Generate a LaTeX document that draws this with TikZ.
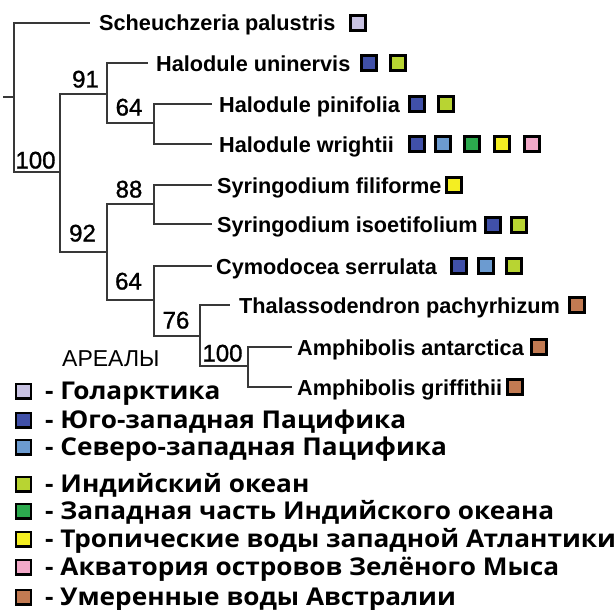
\documentclass[tikz,border=0pt]{standalone}
\usepackage{fontspec}
\setmainfont{Liberation Sans}
\newfontfamily\legfont{Open Sans}[FakeStretch=1.07]
\newfontfamily\numfont{Liberation Sans}[FakeBold=1.2]

% area colours
\definecolor{holarctic}{HTML}{C8C2E2}
\definecolor{swpacific}{HTML}{4050A8}
\definecolor{nwpacific}{HTML}{6C9BD0}
\definecolor{indian}{HTML}{B8D432}
\definecolor{windian}{HTML}{2CAA4E}
\definecolor{watlantic}{HTML}{F4EE22}
\definecolor{capeverde}{HTML}{F2A8C8}
\definecolor{australia}{HTML}{C27A52}

\begin{document}
\begin{tikzpicture}[x=1pt,y=-1pt,
  branch/.style={line width=1.3pt, draw=black!78},
  taxon/.style={anchor=base west, inner sep=0pt, font=\bfseries\fontsize{21.7}{22}\selectfont},
  support/.style={inner sep=0pt, text height=17pt, text depth=0pt, font=\numfont\fontsize{24}{24}\selectfont},
  areabox/.style={draw=black, line width=2.6pt, minimum size=15.4pt, inner sep=0pt, fill=#1},
  legbox/.style={draw=black, line width=2.4pt, minimum size=14.6pt, inner sep=0pt, fill=#1},
  legtext/.style={anchor=base west, inner sep=0pt, font=\legfont\bfseries\fontsize{24.5}{25}\selectfont}]

\useasboundingbox (0,0) rectangle (616,610);
\fill[white] (0,0) rectangle (616,610);

% inner nodes of the tree
\coordinate (stub) at (3,97);
\coordinate (R) at (14,97);
\coordinate (A) at (60,172);
\coordinate (B) at (107,94);
\coordinate (D) at (154,123);
\coordinate (C) at (107,252);
\coordinate (E) at (154,204);
\coordinate (F) at (154,300);
\coordinate (G) at (200,336);
\coordinate (H) at (248,366);

% branch tips
\coordinate (pS)  at (90,23);
\coordinate (pHu) at (148,63);
\coordinate (pHp) at (212,104);
\coordinate (pHw) at (212,144);
\coordinate (pSf) at (212,185);
\coordinate (pSi) at (212,224);
\coordinate (pCs) at (212,266);
\coordinate (pTp) at (230,305);
\coordinate (pAa) at (292,347);
\coordinate (pAg) at (292,387);

% branches
\draw[branch] (stub) -- (R);
\draw[branch] (R) |- (pS);
\draw[branch] (R) |- (A);
\draw[branch] (A) |- (B);
\draw[branch] (A) |- (C);
\draw[branch] (B) |- (pHu);
\draw[branch] (B) |- (D);
\draw[branch] (D) |- (pHp);
\draw[branch] (D) |- (pHw);
\draw[branch] (C) |- (E);
\draw[branch] (C) |- (F);
\draw[branch] (E) |- (pSf);
\draw[branch] (E) |- (pSi);
\draw[branch] (F) |- (pCs);
\draw[branch] (F) |- (G);
\draw[branch] (G) |- (pTp);
\draw[branch] (G) |- (H);
\draw[branch] (H) |- (pAa);
\draw[branch] (H) |- (pAg);

% bootstrap support
\node[support] (bR)  at (35.5,160) {100};
\node[support] (bB)  at (85.5,79) {91};
\node[support] (bD)  at (129,107) {64};
\node[support] (bE)  at (129,189) {88};
\node[support] (bC)  at (82.5,233) {92};
\node[support] (bF)  at (128.5,281) {64};
\node[support] (bG)  at (176,320) {76};
\node[support] (bH)  at (222.5,353) {100};

% taxa
\node[taxon] (tS)  at (99,31)  {Scheuchzeria palustris};
\node[taxon] (tHu) at (156,71) {Halodule uninervis};
\node[taxon] (tHp) at (219,112) {Halodule pinifolia};
\node[taxon] (tHw) at (219,152) {Halodule wrightii};
\node[taxon] (tSf) at (217,193) {Syringodium filiforme};
\node[taxon] (tSi) at (217,232) {Syringodium isoetifolium};
\node[taxon] (tCs) at (216,274) {Cymodocea serrulata};
\node[taxon] (tTp) at (239,313) {Thalassodendron pachyrhizum};
\node[taxon] (tAa) at (297,355) {Amphibolis antarctica};
\node[taxon] (tAg) at (297,395) {Amphibolis griffithii};

% areas of each taxon
\node[areabox=holarctic] (sS1) at (358,23) {};
\node[areabox=swpacific] (sHu1) at (369,63) {};
\node[areabox=indian]    (sHu2) at (398,63) {};
\node[areabox=swpacific] (sHp1) at (417,104) {};
\node[areabox=indian]    (sHp2) at (446,104) {};
\node[areabox=swpacific] (sHw1) at (417,144) {};
\node[areabox=nwpacific] (sHw2) at (443,144) {};
\node[areabox=windian]   (sHw3) at (472,144) {};
\node[areabox=watlantic] (sHw4) at (502,144) {};
\node[areabox=capeverde] (sHw5) at (532,144) {};
\node[areabox=watlantic] (sSf1) at (454,185) {};
\node[areabox=swpacific] (sSi1) at (493,225) {};
\node[areabox=indian]    (sSi2) at (519,225) {};
\node[areabox=swpacific] (sCs1) at (459,266) {};
\node[areabox=nwpacific] (sCs2) at (486,266) {};
\node[areabox=indian]    (sCs3) at (514,266) {};
\node[areabox=australia] (sTp1) at (577,305) {};
\node[areabox=australia] (sAa1) at (539,347) {};
\node[areabox=australia] (sAg1) at (515,387) {};

% legend
\node[anchor=base west, inner sep=0pt, font=\fontsize{23}{23}\selectfont] (areas) at (62,366) {АРЕАЛЫ};

\node[legbox=holarctic] (k1) at (23.5,391) {};
\node[legtext] (l1) at (45,399.5) {- Голарктика};
\node[legbox=swpacific] (k2) at (23.5,420) {};
\node[legtext] (l2) at (45,428.5) {- Юго-западная Пацифика};
\node[legbox=nwpacific] (k3) at (23.5,447) {};
\node[legtext] (l3) at (45,455.5) {- Северо-западная Пацифика};
\node[legbox=indian] (k4) at (23.5,484) {};
\node[legtext] (l4) at (45,492.5) {- Индийский океан};
\node[legbox=windian] (k5) at (23.5,511) {};
\node[legtext] (l5) at (45,519.5) {- Западная часть Индийского океана};
\node[legbox=watlantic] (k6) at (23.5,539) {};
\node[legtext] (l6) at (45,547.5) {- Тропические воды западной Атлантики};
\node[legbox=capeverde] (k7) at (23.5,567) {};
\node[legtext] (l7) at (45,575.5) {- Акватория островов Зелёного Мыса};
\node[legbox=australia] (k8) at (23.5,597) {};
\node[legtext] (l8) at (45,605.5) {- Умеренные воды Австралии};
\end{tikzpicture}
\end{document}
